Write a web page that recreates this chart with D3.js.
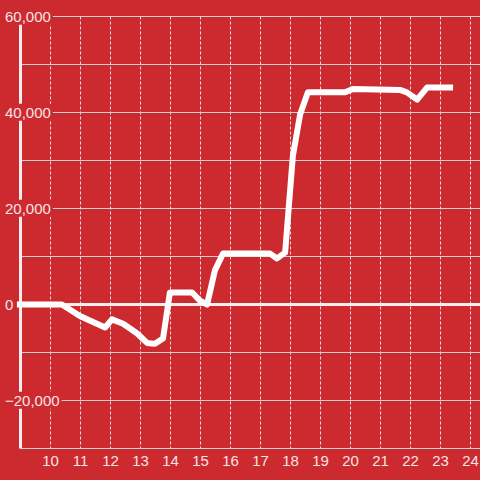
<!DOCTYPE html>
<html>
<head>
<meta charset="utf-8">
<script src="https://cdn.jsdelivr.net/npm/d3@7"></script>
<style>
  body { margin: 0; background: #cd2a30; }
  svg text { font-family: "Liberation Sans", Arial, sans-serif; font-size: 15px; fill: #f6e4e4; }
</style>
</head>
<body>
<div id="chart"></div>
<script>
// hours and values
var hours = [8.88, 10.38, 10.98, 11.82, 12.05, 12.42, 12.88, 13.22, 13.48, 13.75, 13.98,
  14.72, 14.98, 15.22, 15.48, 15.75, 17.32, 17.55, 17.82, 18.08, 18.32, 18.58,
  19.82, 20.08, 21.65, 21.88, 22.22, 22.55, 23.42];
var values = [0, 0, -2400, -4800, -3100, -4000, -6000, -8000, -8200, -7100, 2500,
  2500, 800, 0, 7100, 10600, 10600, 9600, 10800, 31000, 39600, 44200,
  44200, 44900, 44700, 44200, 42700, 45200, 45200];
var xTicks = [10, 11, 12, 13, 14, 15, 16, 17, 18, 19, 20, 21, 22, 23, 24];
var yTicks = [-20000, 0, 20000, 40000, 60000];
var yGrid = [-30000, -20000, -10000, 0, 10000, 20000, 30000, 40000, 50000, 60000];

var W = 480, H = 480;
var svg = d3.select("#chart").append("svg")
  .attr("width", W).attr("height", H);

svg.append("rect").attr("width", W).attr("height", H).attr("fill", "#cd2a30");

var x = d3.scaleLinear().domain([9, 9 + 460 / 30]).range([20.5, 480.5]);
var y = d3.scaleLinear().domain([-30000, 60000]).range([448.5, 16.5]);

// vertical dashed grid
svg.selectAll(".vgrid").data(xTicks).enter().append("line")
  .attr("x1", d => x(d)).attr("x2", d => x(d))
  .attr("y1", y(60000)).attr("y2", y(-30000))
  .attr("stroke", "#e6dede").attr("stroke-width", 1)
  .attr("stroke-dasharray", "3,2");

// horizontal grid
svg.selectAll(".hgrid").data(yGrid).enter().append("line")
  .attr("x1", x(9)).attr("x2", W)
  .attr("y1", d => y(d)).attr("y2", d => y(d))
  .attr("stroke", "#d6d0d0").attr("stroke-width", 1);

// zero line
svg.append("line")
  .attr("x1", x(9)).attr("x2", W)
  .attr("y1", y(0)).attr("y2", y(0))
  .attr("stroke", "#f4eeee").attr("stroke-width", 3);

// y axis line
svg.append("line")
  .attr("x1", x(9)).attr("x2", x(9))
  .attr("y1", y(60000)).attr("y2", y(-30000))
  .attr("stroke", "#f4eeee").attr("stroke-width", 3);

// y labels with background
var fmt = d3.format(",");
var yl = svg.selectAll(".ylab").data(yTicks).enter().append("g");
yl.append("text")
  .attr("x", 5).attr("y", d => y(d))
  .attr("dy", "0.35em")
  .text(d => fmt(d));
yl.each(function() {
  var g = d3.select(this);
  var b = g.select("text").node().getBBox();
  g.insert("rect", "text")
    .attr("x", b.x - 2).attr("y", b.y)
    .attr("width", b.width + 4).attr("height", b.height)
    .attr("fill", "#cd2a30");
});

// x labels
svg.selectAll(".xlab").data(xTicks).enter().append("text")
  .attr("x", d => x(d)).attr("y", 466)
  .attr("text-anchor", "middle")
  .text(d => d);

// data line
var line = d3.line().x((d, i) => x(hours[i])).y(d => y(d));
svg.append("path")
  .datum(values)
  .attr("d", line)
  .attr("fill", "none")
  .attr("stroke", "#ffffff")
  .attr("stroke-width", 6)
  .attr("stroke-linejoin", "round");
</script>
</body>
</html>
